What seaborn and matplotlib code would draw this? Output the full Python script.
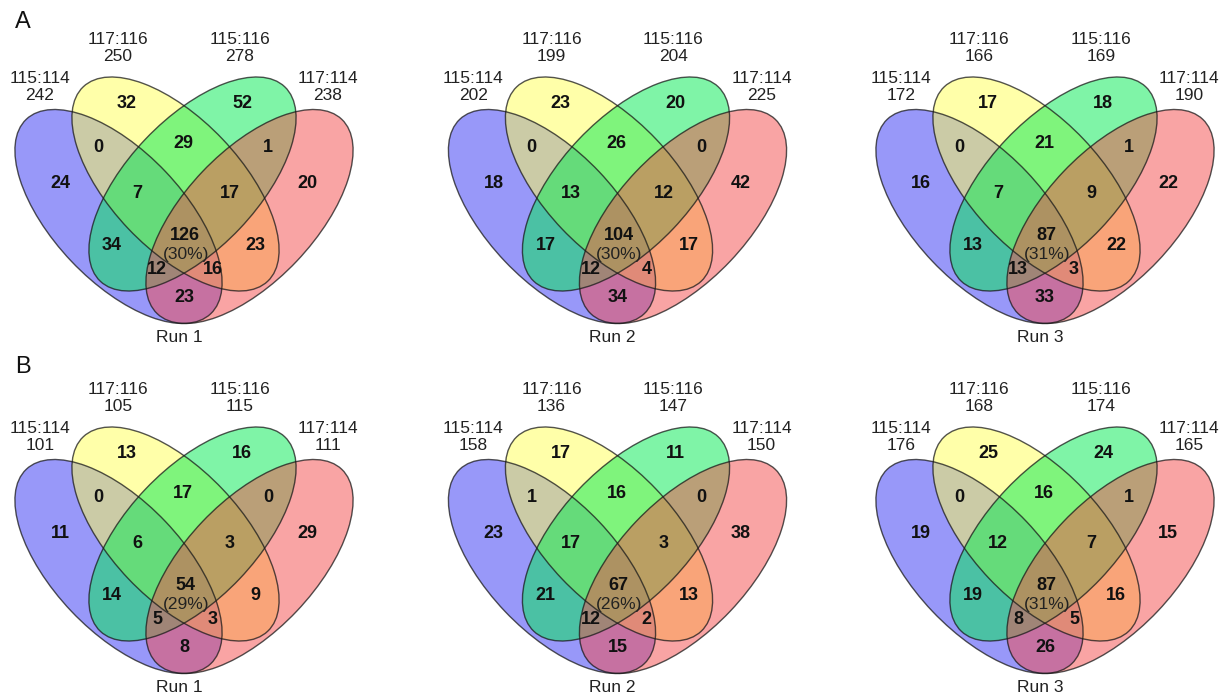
import matplotlib
matplotlib.use("Agg")
import matplotlib.pyplot as plt
from matplotlib.patches import Ellipse
import seaborn as sns

sns.set_theme(style="white")
plt.rcParams["font.family"] = ["Liberation Sans", "DejaVu Sans"]

# ---------------- data ----------------
set_names = ["115:114", "117:116", "115:116", "117:114"]
panel_letters = ["A", "B"]
run_names = ["Run 1", "Run 2", "Run 3"]

# region order: A, B, C, D, AB, BC, CD, ABC, BCD, AC, BD, ABCD, ACD, ABD, AD
region_keys = ["A", "B", "C", "D", "AB", "BC", "CD", "ABC", "BCD",
               "AC", "BD", "ABCD", "ACD", "ABD", "AD"]

totals_A_run1 = [242, 250, 278, 238]
totals_A_run2 = [202, 199, 204, 225]
totals_A_run3 = [172, 166, 169, 190]
totals_B_run1 = [101, 105, 115, 111]
totals_B_run2 = [158, 136, 147, 150]
totals_B_run3 = [176, 168, 174, 165]

regions_A_run1 = [24, 32, 52, 20, 0, 29, 1, 7, 17, 34, 23, 126, 12, 16, 23]
regions_A_run2 = [18, 23, 20, 42, 0, 26, 0, 13, 12, 17, 17, 104, 12, 4, 34]
regions_A_run3 = [16, 17, 18, 22, 0, 21, 1, 7, 9, 13, 22, 87, 13, 3, 33]
regions_B_run1 = [11, 13, 16, 29, 0, 17, 0, 6, 3, 14, 9, 54, 5, 3, 8]
regions_B_run2 = [23, 17, 11, 38, 1, 16, 0, 17, 3, 21, 13, 67, 12, 2, 15]
regions_B_run3 = [19, 25, 24, 15, 0, 16, 1, 12, 7, 19, 16, 87, 8, 5, 26]

core_pct_A = [30, 30, 31]
core_pct_B = [29, 26, 31]

totals = [[totals_A_run1, totals_A_run2, totals_A_run3],
          [totals_B_run1, totals_B_run2, totals_B_run3]]
regions = [[regions_A_run1, regions_A_run2, regions_A_run3],
           [regions_B_run1, regions_B_run2, regions_B_run3]]
pcts = [core_pct_A, core_pct_B]

# ---------------- styling / layout ----------------
W, H = 1223, 698
fill_colors = [(50/255, 50/255, 245/255), (1.0, 1.0, 85/255),
               (0.0, 235/255, 80/255), (245/255, 75/255, 75/255)]
ALPHA = 0.5
A_AX, B_AX, ANG = 134, 65, 46.5
ellipse_centers = [(-65.5, 216.5), (-8.5, 184), (8.5, 184), (65.5, 216.5)]
ellipse_angles = [ANG, ANG, -ANG, -ANG]

region_pos = {
    "A": (-124, 183), "B": (-57, 103), "C": (58, 103), "D": (123, 183),
    "AB": (-86, 147), "BC": (-1, 143), "CD": (84, 147),
    "ABC": (-47, 193), "BCD": (46, 193),
    "AC": (-72, 246), "BD": (71, 246),
    "ABCD": (1, 236), "ACD": (-27, 269), "ABD": (29, 269), "AD": (0, 297),
}
set_label_pos = [(-144, 87), (-66, 48), (56, 48), (144, 87)]

col_centers = [184, 617.5, 1045]
row_tops = [0, 350]
AX_W, AX_H = 400, 349

fig = plt.figure(figsize=(W / 100, H / 100), dpi=100)
fig.patch.set_facecolor("white")

for r in range(2):
    for c in range(3):
        cx, top = col_centers[c], row_tops[r]
        ax = fig.add_axes([(cx - AX_W / 2) / W, (H - top - AX_H) / H,
                           AX_W / W, AX_H / H])
        ax.set_xlim(-AX_W / 2, AX_W / 2)
        ax.set_ylim(AX_H, 0)
        ax.axis("off")

        for i in range(4):
            ax.add_patch(Ellipse(ellipse_centers[i], 2 * A_AX, 2 * B_AX,
                                 angle=ellipse_angles[i],
                                 facecolor=fill_colors[i], alpha=ALPHA,
                                 edgecolor="none", zorder=1))
        for i in range(4):
            ax.add_patch(Ellipse(ellipse_centers[i], 2 * A_AX, 2 * B_AX,
                                 angle=ellipse_angles[i], facecolor="none",
                                 edgecolor="#1a1a1a", lw=1.0, alpha=0.75,
                                 zorder=2))

        vals = regions[r][c]
        for key, v in zip(region_keys, vals):
            x, y = region_pos[key]
            ax.text(x, y, str(v), ha="center", va="center", fontsize=13,
                    fontweight="bold", color="#111111", zorder=3)
        ax.text(2, 255, f"({pcts[r][c]}%)", ha="center", va="center",
                fontsize=12.5, color="#222222", zorder=3)

        for (x, y), name, tot in zip(set_label_pos, set_names, totals[r][c]):
            ax.text(x, y, f"{name}\n{tot}", ha="center", va="center",
                    fontsize=12.5, color="#222222", linespacing=1.15)

        ax.text(-5, 337, run_names[c], ha="center", va="center",
                fontsize=12.5, color="#222222")

        if c == 0:
            ax.text(-161, 22 if r == 0 else 17, panel_letters[r],
                    ha="center", va="center", fontsize=17, color="#111111")

fig.savefig("out.png", dpi=100, facecolor="white")
